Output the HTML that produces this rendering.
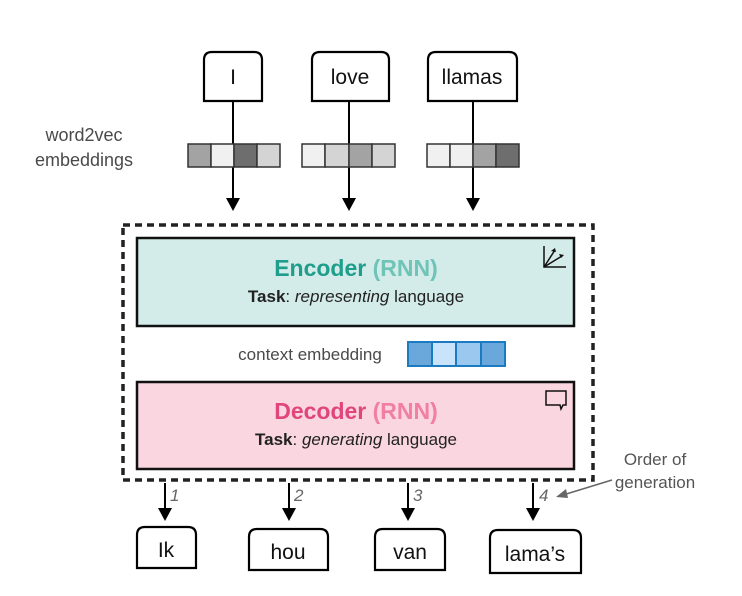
<!DOCTYPE html>
<html><head><meta charset="utf-8"><style>
html,body{margin:0;padding:0;background:#fff;}
svg{display:block;font-family:"Liberation Sans",sans-serif;}
</style></head><body>
<svg width="742" height="596" viewBox="0 0 742 596" xmlns="http://www.w3.org/2000/svg">
<rect width="742" height="596" fill="#fff"/>
<text x="84" y="141" font-size="18" fill="#4a4a4a" text-anchor="middle">word2vec</text>
<text x="84" y="166" font-size="18" fill="#4a4a4a" text-anchor="middle">embeddings</text>
<g fill="#fff" stroke="#000" stroke-width="2.2">
<path d="M204,101 V60 Q204,52 212,52 H254 Q262,52 262,60 V101 Z"/>
<path d="M312,101 V60 Q312,52 320,52 H381 Q389,52 389,60 V101 Z"/>
<path d="M428,101 V60 Q428,52 436,52 H509 Q517,52 517,60 V101 Z"/>
</g>
<g font-size="21" text-anchor="middle" fill="#111">
<text x="233" y="84">I</text>
<text x="350" y="84">love</text>
<text x="472" y="84">llamas</text>
</g>
<g stroke="#000" stroke-width="2">
<line x1="233" y1="101" x2="233" y2="200"/>
<line x1="349" y1="101" x2="349" y2="200"/>
<line x1="473" y1="101" x2="473" y2="200"/>
</g>
<g fill="#000">
<path d="M226,198 L240,198 L233,211 Z"/>
<path d="M342,198 L356,198 L349,211 Z"/>
<path d="M466,198 L480,198 L473,211 Z"/>
</g>
<g stroke="#333" stroke-width="1.5">
<rect x="188" y="144" width="23" height="23" fill="#a3a3a3"/>
<rect x="211" y="144" width="23" height="23" fill="#f0f0f0"/>
<rect x="234" y="144" width="23" height="23" fill="#6e6e6e"/>
<rect x="257" y="144" width="23" height="23" fill="#d4d4d4"/>
<rect x="302" y="144" width="23" height="23" fill="#f0f0f0"/>
<rect x="325" y="144" width="24" height="23" fill="#d4d4d4"/>
<rect x="349" y="144" width="23" height="23" fill="#a3a3a3"/>
<rect x="372" y="144" width="23" height="23" fill="#d4d4d4"/>
<rect x="427" y="144" width="23" height="23" fill="#f0f0f0"/>
<rect x="450" y="144" width="23" height="23" fill="#f0f0f0"/>
<rect x="473" y="144" width="23" height="23" fill="#a3a3a3"/>
<rect x="496" y="144" width="23" height="23" fill="#6e6e6e"/>
</g>
<rect x="123" y="225" width="470" height="255" fill="none" stroke="#222" stroke-width="3.5" stroke-dasharray="7,5"/>
<rect x="137" y="238" width="437" height="88" fill="#d3ebe9" stroke="#111" stroke-width="2.5"/>
<text x="356" y="276" font-size="23" font-weight="bold" text-anchor="middle" fill="#1f9e8c">Encoder <tspan fill="#6fc4b7">(RNN)</tspan></text>
<text x="356" y="302" font-size="17" text-anchor="middle" fill="#222"><tspan font-weight="bold">Task</tspan>: <tspan font-style="italic">representing</tspan> language</text>
<g stroke="#111" stroke-width="1.5" fill="none">
<path d="M544,246 V267 H566"/>
<path d="M544,267 L555,250"/><path d="M544,267 L562,256"/>
</g>
<path d="M555,248 l-4,3 l5,1 z M564,255 l-5,-1 l2,4 z" fill="#111"/>
<text x="310" y="360" font-size="17" text-anchor="middle" fill="#4a4a4a">context embedding</text>
<g stroke="#1a7ac2" stroke-width="2">
<rect x="408" y="342" width="24" height="24" fill="#6aa8dc"/>
<rect x="432" y="342" width="24" height="24" fill="#c9e4fa"/>
<rect x="456" y="342" width="25" height="24" fill="#9ac8ef"/>
<rect x="481" y="342" width="24" height="24" fill="#6aa8dc"/>
</g>
<rect x="137" y="382" width="437" height="87" fill="#f9d6e0" stroke="#111" stroke-width="2.5"/>
<text x="356" y="419" font-size="23" font-weight="bold" text-anchor="middle" fill="#e0457b">Decoder <tspan fill="#f07fa3">(RNN)</tspan></text>
<text x="356" y="445" font-size="17" text-anchor="middle" fill="#222"><tspan font-weight="bold">Task</tspan>: <tspan font-style="italic">generating</tspan> language</text>
<path d="M546,391 H566 V405 H563 L561,409 L560,405 H546 Z" fill="none" stroke="#111" stroke-width="1.5"/>
<g stroke="#000" stroke-width="2">
<line x1="165" y1="483" x2="165" y2="510"/>
<line x1="289" y1="483" x2="289" y2="510"/>
<line x1="408" y1="483" x2="408" y2="510"/>
<line x1="533" y1="483" x2="533" y2="510"/>
</g>
<g fill="#000">
<path d="M158,508 L172,508 L165,521 Z"/>
<path d="M282,508 L296,508 L289,521 Z"/>
<path d="M401,508 L415,508 L408,521 Z"/>
<path d="M526,508 L540,508 L533,521 Z"/>
</g>
<g font-size="17" font-style="italic" fill="#666">
<text x="170" y="501">1</text>
<text x="294" y="501">2</text>
<text x="413" y="501">3</text>
<text x="539" y="501">4</text>
</g>
<text x="655" y="465" font-size="17" text-anchor="middle" fill="#555">Order of</text>
<text x="655" y="488" font-size="17" text-anchor="middle" fill="#555">generation</text>
<line x1="612" y1="480" x2="563" y2="495" stroke="#666" stroke-width="1.5"/>
<path d="M556,497 L566,489 L568,498 Z" fill="#666"/>
<g fill="#fff" stroke="#000" stroke-width="2.2">
<path d="M137,568 V535 Q137,527 145,527 H188 Q196,527 196,535 V568 Z"/>
<path d="M249,570 V537 Q249,529 257,529 H320 Q328,529 328,537 V570 Z"/>
<path d="M375,570 V537 Q375,529 383,529 H437 Q445,529 445,537 V570 Z"/>
<path d="M490,573 V538 Q490,530 498,530 H573 Q581,530 581,538 V573 Z"/>
</g>
<g font-size="21" text-anchor="middle" fill="#111">
<text x="166" y="557">Ik</text>
<text x="288" y="559">hou</text>
<text x="410" y="559">van</text>
<text x="535" y="561">lama’s</text>
</g>
</svg>
</body></html>
